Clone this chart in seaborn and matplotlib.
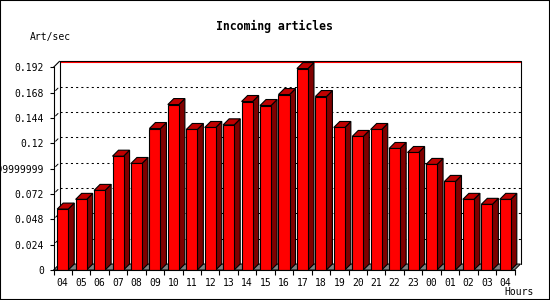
import matplotlib
matplotlib.use("Agg")
import matplotlib.pyplot as plt
import seaborn as sns
import pandas as pd
from matplotlib.patches import Polygon, Rectangle

# ---------------- data ----------------
hours = ["04", "05", "06", "07", "08", "09", "10", "11", "12", "13", "14", "15",
         "16", "17", "18", "19", "20", "21", "22", "23", "00", "01", "02", "03", "04"]
rates = [0.0577, 0.0669, 0.0754, 0.1078, 0.1009, 0.1340, 0.1567, 0.1331, 0.1350,
         0.1375, 0.1596, 0.1558, 0.1662, 0.1908, 0.1643, 0.1350, 0.1265, 0.1331,
         0.1151, 0.1113, 0.1000, 0.0839, 0.0669, 0.0622, 0.0669]
ytick_values = [0, 0.024, 0.048, 0.072, 0.096, 0.12, 0.144, 0.168, 0.192]
ytick_labels = ["0", "0.024", "0.048", "0.072", "0.09599999999", "0.12",
                "0.144", "0.168", "0.192"]
title = "Incoming articles"
ylabel = "Art/sec"
xlabel = "Hours"

df = pd.DataFrame({"slot": list(range(len(hours))), "rate": rates})

# ---------------- figure ----------------
W, H = 550, 300
sns.set_theme(style="white")
plt.rcParams["font.family"] = ["DejaVu Sans Mono"]
fig = plt.figure(figsize=(W / 100, H / 100), dpi=100)
fig.patch.set_facecolor("white")

x0px, x1px, ytop_px, ybot_px = 53.5, 514.5, 67.3, 270.0
ax = fig.add_axes([x0px / W, (H - ybot_px) / H, (x1px - x0px) / W, (ybot_px - ytop_px) / H])
ax.set_facecolor("none")

sns.barplot(data=df, x="slot", y="rate", ax=ax, color="#ff0000", width=0.6,
            edgecolor="black", linewidth=0.8, saturation=1, errorbar=None,
            order=list(range(len(hours))))

n = len(hours)
ax.set_xlim(-0.5, n - 0.5)
ymax = ytick_values[-1]
ax.set_ylim(0, ymax)

# depth offset (6 px) in data units
depth_px = 6.0
dx = depth_px * n / (x1px - x0px)
dy = depth_px * ymax / (ybot_px - ytop_px)
one_px_y = ymax / (ybot_px - ytop_px)

# floor
floor = Polygon([(-0.5, 0), (n - 0.5, 0), (n - 0.5 + dx, dy), (-0.5 + dx, dy)],
                closed=True, facecolor="#808080", edgecolor="black", lw=0.7,
                zorder=1, clip_on=False)
ax.add_patch(floor)

# back wall gridlines
for v in ytick_values[1:-1]:
    ax.plot([-0.5 + dx, n - 0.5 + dx], [v + dy, v + dy], color="black", lw=0.75,
            ls=(0, (2, 3)), zorder=1.5, clip_on=False)
# back wall top (black + red)
ax.plot([-0.5 + dx, n - 0.5 + dx], [ymax + dy, ymax + dy], color="black", lw=0.8,
        zorder=1.6, clip_on=False, solid_capstyle="butt")
ax.plot([-0.5 + dx, n - 0.5 + dx], [ymax + dy - one_px_y, ymax + dy - one_px_y],
        color="#ff0000", lw=0.8, zorder=1.6, clip_on=False, solid_capstyle="butt")
# back wall left & right edges
ax.plot([-0.5 + dx, -0.5 + dx], [dy, ymax + dy], color="black", lw=0.8, zorder=1.6, clip_on=False)
ax.plot([n - 0.5 + dx, n - 0.5 + dx], [dy, ymax + dy], color="black", lw=0.8, zorder=1.6, clip_on=False)
# top-left diagonal
ax.plot([-0.5, -0.5 + dx], [ymax, ymax + dy], color="black", lw=0.8, zorder=1.6, clip_on=False)
# small slants on left wall
for v in ytick_values[1:-1]:
    ax.plot([-0.5 + 0.35 * dx, -0.5 + 0.75 * dx], [v + 0.35 * dy, v + 0.75 * dy],
            color="black", lw=0.7, zorder=1.6, clip_on=False)

# 3D sides and tops of bars
for p in ax.patches:
    if p is floor:
        continue
    p.set_zorder(3)
    bx, bw, bh = p.get_x(), p.get_width(), p.get_height()
    side = Polygon([(bx + bw, 0), (bx + bw + dx, dy), (bx + bw + dx, bh + dy), (bx + bw, bh)],
                   closed=True, facecolor="#800000", edgecolor="black", lw=0.8,
                   zorder=2.9, clip_on=False)
    top = Polygon([(bx, bh), (bx + dx, bh + dy), (bx + bw + dx, bh + dy), (bx + bw, bh)],
                  closed=True, facecolor="#c00000", edgecolor="black", lw=0.8,
                  zorder=2.9, clip_on=False)
    ax.add_patch(side)
    ax.add_patch(top)

# spines / axes
for s in ["top", "right"]:
    ax.spines[s].set_visible(False)
for s in ["left", "bottom"]:
    ax.spines[s].set_color("black")
    ax.spines[s].set_linewidth(0.8)
    ax.spines[s].set_zorder(4)

ax.set_yticks(ytick_values)
ax.set_yticklabels(ytick_labels)
ax.tick_params(axis="y", which="major", left=True, length=3, width=0.8, pad=4,
               labelsize=7, colors="black")

ax.set_xticks(list(range(n)))
ax.set_xticklabels(hours)
ax.set_xticks([i - 0.5 for i in range(n + 1)], minor=True)
ax.tick_params(axis="x", which="major", bottom=False, length=0, pad=6,
               labelsize=7, colors="black")
ax.tick_params(axis="x", which="minor", bottom=True, length=3.5, width=0.8, color="black")
ax.set_xlabel("")
ax.set_ylabel("")

# texts
fig.text(274 / W, 1 - 26.7 / H, title, ha="center", va="center", fontsize=8.3,
         fontweight="bold", color="black")
fig.text(30 / W, 1 - 36.7 / H, ylabel, ha="left", va="center", fontsize=7, color="black")
fig.text(504 / W, 1 - 292 / H, xlabel, ha="left", va="center", fontsize=7, color="black")

# outer frame
fig.patches.append(Rectangle((0, 0), 1, 1, transform=fig.transFigure, fill=False,
                             edgecolor="black", lw=1.5, zorder=10))

fig.savefig("out.png", dpi=100, facecolor="white")
